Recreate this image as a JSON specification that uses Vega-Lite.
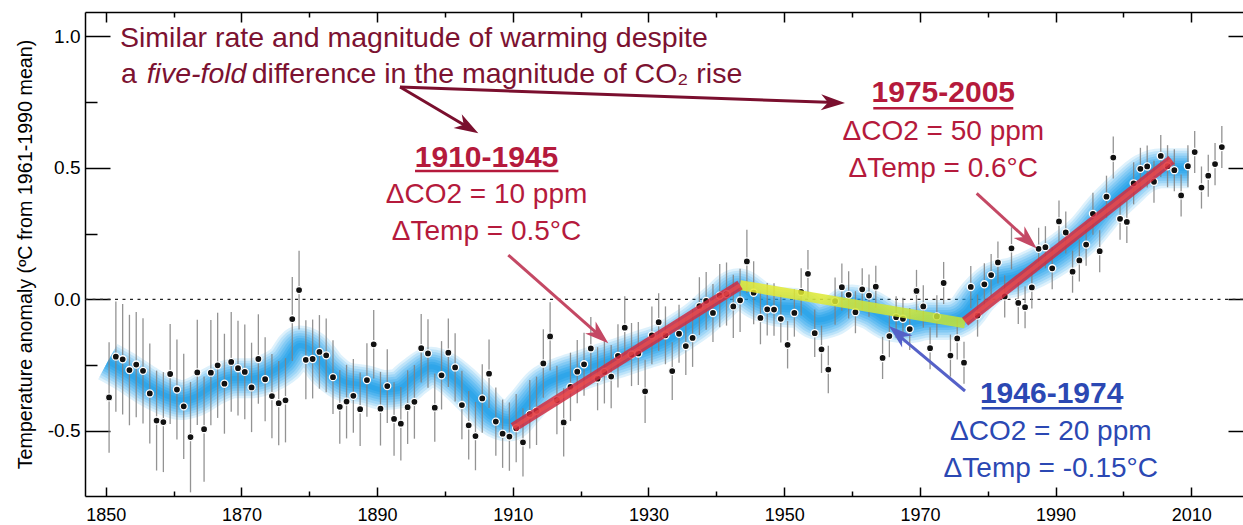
{
"$schema": "https://vega.github.io/schema/vega-lite/v6.json",
"width": 1158, "height": 484,
"autosize": {"type": "none"},
"padding": {"left": 85, "top": 12, "right": 0, "bottom": 29},
"background": "white",
"config": {"view": {"stroke": null}, "font": "Liberation Sans",
 "axis": {"domainColor": "#000", "domainWidth": 1.5, "tickColor": "#000", "tickWidth": 1.5, "labelFont": "Liberation Sans", "labelFontSize": 19, "labelColor": "#000", "titleFont": "Liberation Sans", "titleColor": "#000", "grid": false}},
"datasets": {
"temps": [
{"t":1850.5,"v":-0.373,"e":0.21},{"t":1851.5,"v":-0.218,"e":0.21},{"t":1852.5,"v":-0.228,"e":0.21},{"t":1853.5,"v":-0.269,"e":0.21},{"t":1854.5,"v":-0.248,"e":0.2},{"t":1855.5,"v":-0.272,"e":0.2},{"t":1856.5,"v":-0.358,"e":0.19},{"t":1857.5,"v":-0.461,"e":0.19},{"t":1858.5,"v":-0.467,"e":0.19},{"t":1859.5,"v":-0.284,"e":0.19},
{"t":1860.5,"v":-0.343,"e":0.19},{"t":1861.5,"v":-0.407,"e":0.2},{"t":1862.5,"v":-0.524,"e":0.21},{"t":1863.5,"v":-0.278,"e":0.2},{"t":1864.5,"v":-0.494,"e":0.2},{"t":1865.5,"v":-0.279,"e":0.2},{"t":1866.5,"v":-0.251,"e":0.2},{"t":1867.5,"v":-0.321,"e":0.19},{"t":1868.5,"v":-0.238,"e":0.19},{"t":1869.5,"v":-0.262,"e":0.18},
{"t":1870.5,"v":-0.276,"e":0.18},{"t":1871.5,"v":-0.335,"e":0.17},{"t":1872.5,"v":-0.227,"e":0.17},{"t":1873.5,"v":-0.304,"e":0.16},{"t":1874.5,"v":-0.368,"e":0.16},{"t":1875.5,"v":-0.395,"e":0.16},{"t":1876.5,"v":-0.384,"e":0.16},{"t":1877.5,"v":-0.075,"e":0.16},{"t":1878.5,"v":0.035,"e":0.15},{"t":1879.5,"v":-0.23,"e":0.15},
{"t":1880.5,"v":-0.227,"e":0.15},{"t":1881.5,"v":-0.2,"e":0.14},{"t":1882.5,"v":-0.213,"e":0.14},{"t":1883.5,"v":-0.296,"e":0.14},{"t":1884.5,"v":-0.409,"e":0.14},{"t":1885.5,"v":-0.389,"e":0.14},{"t":1886.5,"v":-0.367,"e":0.14},{"t":1887.5,"v":-0.418,"e":0.14},{"t":1888.5,"v":-0.307,"e":0.14},{"t":1889.5,"v":-0.171,"e":0.13},
{"t":1890.5,"v":-0.416,"e":0.14},{"t":1891.5,"v":-0.33,"e":0.14},{"t":1892.5,"v":-0.455,"e":0.14},{"t":1893.5,"v":-0.473,"e":0.14},{"t":1894.5,"v":-0.41,"e":0.14},{"t":1895.5,"v":-0.39,"e":0.14},{"t":1896.5,"v":-0.186,"e":0.13},{"t":1897.5,"v":-0.206,"e":0.13},{"t":1898.5,"v":-0.412,"e":0.13},{"t":1899.5,"v":-0.289,"e":0.13},
{"t":1900.5,"v":-0.203,"e":0.13},{"t":1901.5,"v":-0.259,"e":0.13},{"t":1902.5,"v":-0.402,"e":0.13},{"t":1903.5,"v":-0.479,"e":0.13},{"t":1904.5,"v":-0.52,"e":0.13},{"t":1905.5,"v":-0.377,"e":0.13},{"t":1906.5,"v":-0.283,"e":0.13},{"t":1907.5,"v":-0.465,"e":0.13},{"t":1908.5,"v":-0.511,"e":0.13},{"t":1909.5,"v":-0.522,"e":0.13},
{"t":1910.5,"v":-0.49,"e":0.13},{"t":1911.5,"v":-0.544,"e":0.13},{"t":1912.5,"v":-0.437,"e":0.13},{"t":1913.5,"v":-0.424,"e":0.13},{"t":1914.5,"v":-0.244,"e":0.13},{"t":1915.5,"v":-0.141,"e":0.13},{"t":1916.5,"v":-0.383,"e":0.13},{"t":1917.5,"v":-0.468,"e":0.13},{"t":1918.5,"v":-0.333,"e":0.13},{"t":1919.5,"v":-0.275,"e":0.12},
{"t":1920.5,"v":-0.247,"e":0.12},{"t":1921.5,"v":-0.187,"e":0.12},{"t":1922.5,"v":-0.302,"e":0.12},{"t":1923.5,"v":-0.276,"e":0.12},{"t":1924.5,"v":-0.294,"e":0.12},{"t":1925.5,"v":-0.215,"e":0.12},{"t":1926.5,"v":-0.108,"e":0.12},{"t":1927.5,"v":-0.21,"e":0.12},{"t":1928.5,"v":-0.206,"e":0.12},{"t":1929.5,"v":-0.35,"e":0.12},
{"t":1930.5,"v":-0.137,"e":0.11},{"t":1931.5,"v":-0.087,"e":0.11},{"t":1932.5,"v":-0.137,"e":0.11},{"t":1933.5,"v":-0.273,"e":0.11},{"t":1934.5,"v":-0.131,"e":0.11},{"t":1935.5,"v":-0.178,"e":0.11},{"t":1936.5,"v":-0.147,"e":0.11},{"t":1937.5,"v":-0.026,"e":0.11},{"t":1938.5,"v":-0.006,"e":0.11},{"t":1939.5,"v":-0.052,"e":0.11},
{"t":1940.5,"v":0.014,"e":0.12},{"t":1941.5,"v":0.02,"e":0.12},{"t":1942.5,"v":-0.027,"e":0.12},{"t":1943.5,"v":-0.004,"e":0.12},{"t":1944.5,"v":0.144,"e":0.12},{"t":1945.5,"v":0.025,"e":0.12},{"t":1946.5,"v":-0.071,"e":0.1},{"t":1947.5,"v":-0.038,"e":0.1},{"t":1948.5,"v":-0.039,"e":0.1},{"t":1949.5,"v":-0.074,"e":0.09},
{"t":1950.5,"v":-0.173,"e":0.09},{"t":1951.5,"v":-0.052,"e":0.09},{"t":1952.5,"v":0.028,"e":0.09},{"t":1953.5,"v":0.097,"e":0.09},{"t":1954.5,"v":-0.129,"e":0.09},{"t":1955.5,"v":-0.19,"e":0.09},{"t":1956.5,"v":-0.267,"e":0.09},{"t":1957.5,"v":-0.007,"e":0.09},{"t":1958.5,"v":0.046,"e":0.09},{"t":1959.5,"v":0.017,"e":0.09},
{"t":1960.5,"v":-0.049,"e":0.08},{"t":1961.5,"v":0.038,"e":0.08},{"t":1962.5,"v":0.014,"e":0.08},{"t":1963.5,"v":0.048,"e":0.08},{"t":1964.5,"v":-0.223,"e":0.08},{"t":1965.5,"v":-0.14,"e":0.08},{"t":1966.5,"v":-0.068,"e":0.08},{"t":1967.5,"v":-0.074,"e":0.08},{"t":1968.5,"v":-0.113,"e":0.08},{"t":1969.5,"v":0.032,"e":0.08},
{"t":1970.5,"v":-0.027,"e":0.08},{"t":1971.5,"v":-0.186,"e":0.08},{"t":1972.5,"v":-0.065,"e":0.08},{"t":1973.5,"v":0.062,"e":0.08},{"t":1974.5,"v":-0.214,"e":0.08},{"t":1975.5,"v":-0.149,"e":0.08},{"t":1976.5,"v":-0.241,"e":0.08},{"t":1977.5,"v":0.047,"e":0.08},{"t":1978.5,"v":-0.062,"e":0.08},{"t":1979.5,"v":0.057,"e":0.08},
{"t":1980.5,"v":0.092,"e":0.08},{"t":1981.5,"v":0.14,"e":0.08},{"t":1982.5,"v":0.011,"e":0.08},{"t":1983.5,"v":0.194,"e":0.08},{"t":1984.5,"v":-0.014,"e":0.08},{"t":1985.5,"v":-0.03,"e":0.08},{"t":1986.5,"v":0.045,"e":0.08},{"t":1987.5,"v":0.192,"e":0.08},{"t":1988.5,"v":0.198,"e":0.08},{"t":1989.5,"v":0.118,"e":0.08},
{"t":1990.5,"v":0.296,"e":0.08},{"t":1991.5,"v":0.254,"e":0.08},{"t":1992.5,"v":0.105,"e":0.08},{"t":1993.5,"v":0.148,"e":0.08},{"t":1994.5,"v":0.208,"e":0.08},{"t":1995.5,"v":0.325,"e":0.08},{"t":1996.5,"v":0.183,"e":0.08},{"t":1997.5,"v":0.39,"e":0.08},{"t":1998.5,"v":0.539,"e":0.08},{"t":1999.5,"v":0.306,"e":0.08},
{"t":2000.5,"v":0.294,"e":0.08},{"t":2001.5,"v":0.441,"e":0.08},{"t":2002.5,"v":0.496,"e":0.08},{"t":2003.5,"v":0.505,"e":0.08},{"t":2004.5,"v":0.447,"e":0.08},{"t":2005.5,"v":0.545,"e":0.08},{"t":2006.5,"v":0.506,"e":0.08},{"t":2007.5,"v":0.491,"e":0.08},{"t":2008.5,"v":0.395,"e":0.08},{"t":2009.5,"v":0.506,"e":0.08},
{"t":2010.5,"v":0.56,"e":0.08},{"t":2011.5,"v":0.425,"e":0.08},{"t":2012.5,"v":0.47,"e":0.08},{"t":2013.5,"v":0.514,"e":0.08},{"t":2014.5,"v":0.579,"e":0.08}
],
"smooth": [
{"t":1850.3,"v":-0.237},{"t":1853.3,"v":-0.281},{"t":1856.3,"v":-0.332},{"t":1859.3,"v":-0.37},{"t":1861.2,"v":-0.383},{"t":1863.2,"v":-0.37},{"t":1866.1,"v":-0.326},{"t":1869.1,"v":-0.3},{"t":1871.5,"v":-0.3},{"t":1874.0,"v":-0.281},{"t":1876.4,"v":-0.243},{"t":1878.6,"v":-0.176},{"t":1880.3,"v":-0.193},{"t":1882.8,"v":-0.269},{"t":1885.2,"v":-0.313},{"t":1888.2,"v":-0.326},{"t":1891.1,"v":-0.345},{"t":1893.1,"v":-0.34},{"t":1895.5,"v":-0.294},{"t":1898.0,"v":-0.256},{"t":1900.0,"v":-0.275},{"t":1902.5,"v":-0.326},{"t":1904.8,"v":-0.385},{"t":1906.9,"v":-0.44},{"t":1909.4,"v":-0.465},{"t":1911.8,"v":-0.408},{"t":1914.3,"v":-0.332},{"t":1917.2,"v":-0.294},{"t":1920.2,"v":-0.269},{"t":1923.1,"v":-0.243},{"t":1926.1,"v":-0.218},{"t":1929.0,"v":-0.193},{"t":1932.2,"v":-0.164},{"t":1935.0,"v":-0.12},{"t":1937.3,"v":-0.079},{"t":1940.2,"v":-0.015},{"t":1943.2,"v":0.042},{"t":1946.2,"v":-0.003},{"t":1949.1,"v":-0.028},{"t":1952.1,"v":-0.034},{"t":1955.0,"v":-0.079},{"t":1957.0,"v":-0.066},{"t":1960.0,"v":-0.02},{"t":1962.8,"v":-0.041},{"t":1965.8,"v":-0.085},{"t":1968.2,"v":-0.091},{"t":1971.2,"v":-0.079},{"t":1974.1,"v":-0.079},{"t":1976.6,"v":-0.053},{"t":1978.5,"v":0.01},{"t":1981.0,"v":0.067},{"t":1983.9,"v":0.086},{"t":1986.9,"v":0.118},{"t":1989.1,"v":0.149},{"t":1991.3,"v":0.187},{"t":1994.3,"v":0.251},{"t":1997.2,"v":0.34},{"t":2000.2,"v":0.416},{"t":2003.1,"v":0.479},{"t":2005.6,"v":0.498},{"t":2008.1,"v":0.498},{"t":2009.6,"v":0.498}
],
"trend": [
{"seg":"r1","t":1910.08,"v":-0.487},{"seg":"r1","t":1943.49,"v":0.054},
{"seg":"y","t":1943.49,"v":0.054},{"seg":"y","t":1976.65,"v":-0.091},
{"seg":"r2","t":1976.65,"v":-0.085},{"seg":"r2","t":2007.1,"v":0.53}
]
},
"resolve": {"axis": {"x": "independent", "y": "independent"}},
"layer": [
{"data": {"values": [{}]}, "mark": {"type": "rule", "strokeDash": [3, 4.5], "stroke": "#222", "strokeWidth": 1.3},
 "encoding": {"y": {"datum": 0, "type": "quantitative", "axis": null}}},
{"data": {"name": "smooth"}, "mark": {"type": "line", "interpolate": "monotone", "stroke": "#2aa6ee", "strokeWidth": 40, "opacity": 0.16, "strokeCap": "butt"},
 "encoding": {
  "x": {"field": "t", "type": "quantitative", "scale": {"domain": [1846.95, 2017.62], "nice": false, "zero": false},
   "axis": {"orient": "top", "values": [1850,1860,1870,1880,1890,1900,1910,1920,1930,1940,1950,1960,1970,1980,1990,2000,2010], "labels": false, "title": null,
    "tickSize": {"condition": {"test": "datum.value % 20 === 10", "value": -10}, "value": -5}}},
  "y": {"field": "v", "type": "quantitative", "scale": {"domain": [-0.7479, 1.0924], "nice": false, "zero": false},
   "axis": {"orient": "right", "values": [-0.5, 0, 0.5, 1], "labels": false, "domain": false, "title": null, "tickSize": -15}}}},
{"data": {"name": "smooth"}, "mark": {"type": "line", "interpolate": "monotone", "stroke": "#2aa6ee", "strokeWidth": 35, "opacity": 0.18, "strokeCap": "butt"},
 "encoding": {"x": {"field": "t", "type": "quantitative", "axis": null}, "y": {"field": "v", "type": "quantitative", "axis": null}}},
{"data": {"name": "smooth"}, "mark": {"type": "line", "interpolate": "monotone", "stroke": "#2aa6ee", "strokeWidth": 30, "opacity": 0.2, "strokeCap": "butt"},
 "encoding": {"x": {"field": "t", "type": "quantitative", "axis": null}, "y": {"field": "v", "type": "quantitative", "axis": null}}},
{"data": {"name": "smooth"}, "mark": {"type": "line", "interpolate": "monotone", "stroke": "#1fa1ec", "strokeWidth": 25, "opacity": 0.22, "strokeCap": "butt"},
 "encoding": {"x": {"field": "t", "type": "quantitative", "axis": null}, "y": {"field": "v", "type": "quantitative", "axis": null}}},
{"data": {"name": "smooth"}, "mark": {"type": "line", "interpolate": "monotone", "stroke": "#1a9eea", "strokeWidth": 20, "opacity": 0.25, "strokeCap": "butt"},
 "encoding": {"x": {"field": "t", "type": "quantitative", "axis": null}, "y": {"field": "v", "type": "quantitative", "axis": null}}},
{"data": {"name": "smooth"}, "mark": {"type": "line", "interpolate": "monotone", "stroke": "#159be8", "strokeWidth": 15, "opacity": 0.28, "strokeCap": "butt"},
 "encoding": {"x": {"field": "t", "type": "quantitative", "axis": null}, "y": {"field": "v", "type": "quantitative", "axis": null}}},
{"data": {"name": "smooth"}, "mark": {"type": "line", "interpolate": "monotone", "stroke": "#1198e6", "strokeWidth": 10, "opacity": 0.3, "strokeCap": "butt"},
 "encoding": {"x": {"field": "t", "type": "quantitative", "axis": null}, "y": {"field": "v", "type": "quantitative", "axis": null}}},
{"data": {"name": "smooth"}, "mark": {"type": "line", "interpolate": "monotone", "stroke": "#1198e6", "strokeWidth": 5, "opacity": 0.3, "strokeCap": "butt"},
 "encoding": {"x": {"field": "t", "type": "quantitative", "axis": null}, "y": {"field": "v", "type": "quantitative", "axis": null}}},
{"data": {"name": "temps"}, "mark": {"type": "errorbar", "ticks": false, "rule": {"color": "#808080", "strokeWidth": 1.3, "opacity": 0.85}},
 "encoding": {"x": {"field": "t", "type": "quantitative", "axis": null}, "y": {"field": "v", "type": "quantitative", "axis": null}, "yError": {"field": "e"}}},
{"data": {"name": "temps"}, "mark": {"type": "point", "filled": true, "fill": "#111", "stroke": "#fff", "strokeWidth": 1.3, "size": 50, "opacity": 1},
 "encoding": {
  "x": {"field": "t", "type": "quantitative", "scale": {"domain": [1846.95, 2017.62], "nice": false, "zero": false},
   "axis": {"orient": "bottom", "values": [1850,1860,1870,1880,1890,1900,1910,1920,1930,1940,1950,1960,1970,1980,1990,2000,2010], "format": "d", "title": null,
    "labelExpr": "datum.value % 20 === 10 ? datum.label : ''", "labelPadding": 19, "labelFontSize": 18,
    "tickSize": {"condition": {"test": "datum.value % 20 === 10", "value": -9}, "value": -5}}},
  "y": {"field": "v", "type": "quantitative", "scale": {"domain": [-0.7479, 1.0924], "nice": false, "zero": false},
   "axis": {"orient": "left", "values": [-0.5, -0.25, 0, 0.25, 0.5, 0.75, 1],
    "labelExpr": "datum.value % 0.5 === 0 ? replace(format(datum.value, '.1f'), '\u2212', '-') : ''", "labelPadding": 30,
    "tickSize": {"condition": {"test": "datum.value % 0.5 === 0", "value": -25}, "value": -12},
    "title": "Temperature anomaly (ºC from 1961-1990 mean)", "titleFontSize": 19.7, "titleFontWeight": "normal", "titlePadding": 12}}}},
{"data": {"name": "trend"}, "transform": [{"filter": "datum.seg === 'y'"}],
 "mark": {"type": "line", "strokeWidth": 10, "opacity": 0.85, "strokeCap": "butt", "stroke": {"gradient": "linear", "x1": 0, "x2": 1, "y1": 0, "y2": 0, "stops": [{"offset": 0, "color": "#ecec30"}, {"offset": 1, "color": "#c0e238"}]}},
 "encoding": {"x": {"field": "t", "type": "quantitative", "axis": null}, "y": {"field": "v", "type": "quantitative", "axis": null}}},
{"data": {"name": "trend"}, "transform": [{"filter": "datum.seg !== 'y'"}],
 "mark": {"type": "line", "strokeWidth": 10, "opacity": 0.85, "strokeCap": "butt", "stroke": "#d02c40"},
 "encoding": {"x": {"field": "t", "type": "quantitative", "axis": null}, "y": {"field": "v", "type": "quantitative", "axis": null}, "detail": {"field": "seg"}}},
{"data": {"name": "trend"}, "transform": [{"filter": "datum.seg !== 'y'"}],
 "mark": {"type": "line", "strokeWidth": 4, "opacity": 0.55, "strokeCap": "butt", "stroke": "#f5524a"},
 "encoding": {"x": {"field": "t", "type": "quantitative", "axis": null}, "y": {"field": "v", "type": "quantitative", "axis": null}, "detail": {"field": "seg"}}},

{"data": {"values": [{}]}, "mark": {"type": "rule", "stroke": "#7a0f2e", "strokeWidth": 3},
 "encoding": {"x": {"datum": 1893.38, "type": "quantitative", "axis": null}, "y": {"datum": 0.807, "type": "quantitative", "axis": null}, "x2": {"datum": 1903.65}, "y2": {"datum": 0.6506}}},
{"data": {"values": [{}]}, "mark": {"type": "point", "shape": "M0,0L0.8,2.4L0,1.7L-0.8,2.4Z", "size": 400, "filled": true, "fill": "#7a0f2e", "strokeWidth": 0, "opacity": 1, "angle": 120.6},
 "encoding": {"x": {"datum": 1904.92, "type": "quantitative", "axis": null}, "y": {"datum": 0.631, "type": "quantitative", "axis": null}}},
{"data": {"values": [{}]}, "mark": {"type": "rule", "stroke": "#7a0f2e", "strokeWidth": 3},
 "encoding": {"x": {"datum": 1893.38, "type": "quantitative", "axis": null}, "y": {"datum": 0.807, "type": "quantitative", "axis": null}, "x2": {"datum": 1957.49}, "y2": {"datum": 0.748}}},
{"data": {"values": [{}]}, "mark": {"type": "point", "shape": "M0,0L0.8,2.4L0,1.7L-0.8,2.4Z", "size": 400, "filled": true, "fill": "#7a0f2e", "strokeWidth": 0, "opacity": 1, "angle": 92.0},
 "encoding": {"x": {"datum": 1958.96, "type": "quantitative", "axis": null}, "y": {"datum": 0.746, "type": "quantitative", "axis": null}}},
{"data": {"values": [{}]}, "mark": {"type": "rule", "stroke": "#c44864", "strokeWidth": 3},
 "encoding": {"x": {"datum": 1909.34, "type": "quantitative", "axis": null}, "y": {"datum": 0.1684, "type": "quantitative", "axis": null}, "x2": {"datum": 1922.97}, "y2": {"datum": -0.1422}}},
{"data": {"values": [{}]}, "mark": {"type": "point", "shape": "M0,0L0.8,2.4L0,1.7L-0.8,2.4Z", "size": 400, "filled": true, "fill": "#c44864", "strokeWidth": 0, "opacity": 1, "angle": 131.4},
 "encoding": {"x": {"datum": 1924.08, "type": "quantitative", "axis": null}, "y": {"datum": -0.1673, "type": "quantitative", "axis": null}}},
{"data": {"values": [{}]}, "mark": {"type": "rule", "stroke": "#c44864", "strokeWidth": 3},
 "encoding": {"x": {"datum": 1978.37, "type": "quantitative", "axis": null}, "y": {"datum": 0.403, "type": "quantitative", "axis": null}, "x2": {"datum": 1986.12}, "y2": {"datum": 0.2198}}},
{"data": {"values": [{}]}, "mark": {"type": "point", "shape": "M0,0L0.8,2.4L0,1.7L-0.8,2.4Z", "size": 400, "filled": true, "fill": "#c44864", "strokeWidth": 0, "opacity": 1, "angle": 132.5},
 "encoding": {"x": {"datum": 1987.22, "type": "quantitative", "axis": null}, "y": {"datum": 0.1935, "type": "quantitative", "axis": null}}},
{"data": {"values": [{}]}, "mark": {"type": "rule", "stroke": "#5561c8", "strokeWidth": 3},
 "encoding": {"x": {"datum": 1976.65, "type": "quantitative", "axis": null}, "y": {"datum": -0.3487, "type": "quantitative", "axis": null}, "x2": {"datum": 1966.46}, "y2": {"datum": -0.1289}}},
{"data": {"values": [{}]}, "mark": {"type": "point", "shape": "M0,0L0.8,2.4L0,1.7L-0.8,2.4Z", "size": 400, "filled": true, "fill": "#5561c8", "strokeWidth": 0, "opacity": 1, "angle": -49.7},
 "encoding": {"x": {"datum": 1965.45, "type": "quantitative", "axis": null}, "y": {"datum": -0.1015, "type": "quantitative", "axis": null}}},

{"data": {"values": [{"label": "Similar rate and magnitude of warming despite"}]}, "mark": {"type": "text", "align": "left", "baseline": "alphabetic", "fontSize": 28.5, "fill": "#7c1231", "font": "Liberation Sans"},
 "encoding": {"x": {"datum": 1852.11, "type": "quantitative", "axis": null}, "y": {"datum": 0.9608, "type": "quantitative", "axis": null}, "text": {"field": "label"}}},
{"data": {"values": [{"label": "a"}]}, "mark": {"type": "text", "align": "left", "baseline": "alphabetic", "fontSize": 28.5, "fill": "#7c1231", "font": "Liberation Sans"},
 "encoding": {"x": {"datum": 1852.26, "type": "quantitative", "axis": null}, "y": {"datum": 0.8236, "type": "quantitative", "axis": null}, "text": {"field": "label"}}},
{"data": {"values": [{"label": "five-fold"}]}, "mark": {"type": "text", "align": "left", "baseline": "alphabetic", "fontSize": 28.5, "fontStyle": "italic", "fill": "#7c1231", "font": "Liberation Sans"},
 "encoding": {"x": {"datum": 1856.04, "type": "quantitative", "axis": null}, "y": {"datum": 0.8236, "type": "quantitative", "axis": null}, "text": {"field": "label"}}},
{"data": {"values": [{"label": "difference in the magnitude of CO₂ rise"}]}, "mark": {"type": "text", "align": "left", "baseline": "alphabetic", "fontSize": 28.5, "fill": "#7c1231", "font": "Liberation Sans"},
 "encoding": {"x": {"datum": 1871.52, "type": "quantitative", "axis": null}, "y": {"datum": 0.8236, "type": "quantitative", "axis": null}, "text": {"field": "label"}}},

{"data": {"values": [{"label": "1910-1945"}]}, "mark": {"type": "text", "align": "center", "baseline": "alphabetic", "fontSize": 30, "fontWeight": "bold", "fill": "#b51a3c", "font": "Liberation Sans"},
 "encoding": {"x": {"datum": 1906.13, "type": "quantitative", "axis": null}, "y": {"datum": 0.504, "type": "quantitative", "axis": null}, "text": {"field": "label"}}},
{"data": {"values": [{}]}, "mark": {"type": "rule", "stroke": "#b51a3c", "strokeWidth": 2.5},
 "encoding": {"x": {"datum": 1895.59, "type": "quantitative", "axis": null}, "x2": {"datum": 1916.72}, "y": {"datum": 0.4878, "type": "quantitative", "axis": null}}},
{"data": {"values": [{"label": ["ΔCO2 = 10 ppm", "ΔTemp = 0.5°C"]}]}, "mark": {"type": "text", "align": "center", "baseline": "alphabetic", "fontSize": 28, "lineHeight": 36.7, "fill": "#b51a3c", "font": "Liberation Sans"},
 "encoding": {"x": {"datum": 1906.13, "type": "quantitative", "axis": null}, "y": {"datum": 0.365, "type": "quantitative", "axis": null}, "text": {"field": "label"}}},

{"data": {"values": [{"label": "1975-2005"}]}, "mark": {"type": "text", "align": "center", "baseline": "alphabetic", "fontSize": 30, "fontWeight": "bold", "fill": "#b51a3c", "font": "Liberation Sans"},
 "encoding": {"x": {"datum": 1973.45, "type": "quantitative", "axis": null}, "y": {"datum": 0.7513, "type": "quantitative", "axis": null}, "text": {"field": "label"}}},
{"data": {"values": [{}]}, "mark": {"type": "rule", "stroke": "#b51a3c", "strokeWidth": 2.5},
 "encoding": {"x": {"datum": 1963.13, "type": "quantitative", "axis": null}, "x2": {"datum": 1983.76}, "y": {"datum": 0.726, "type": "quantitative", "axis": null}}},
{"data": {"values": [{"label": ["ΔCO2 = 50 ppm", "ΔTemp = 0.6°C"]}]}, "mark": {"type": "text", "align": "center", "baseline": "alphabetic", "fontSize": 28, "lineHeight": 36.7, "fill": "#b51a3c", "font": "Liberation Sans"},
 "encoding": {"x": {"datum": 1973.45, "type": "quantitative", "axis": null}, "y": {"datum": 0.6057, "type": "quantitative", "axis": null}, "text": {"field": "label"}}},

{"data": {"values": [{"label": "1946-1974"}]}, "mark": {"type": "text", "align": "center", "baseline": "alphabetic", "fontSize": 30, "fontWeight": "bold", "fill": "#2b48b3", "font": "Liberation Sans"},
 "encoding": {"x": {"datum": 1989.42, "type": "quantitative", "axis": null}, "y": {"datum": -0.3954, "type": "quantitative", "axis": null}, "text": {"field": "label"}}},
{"data": {"values": [{}]}, "mark": {"type": "rule", "stroke": "#2b48b3", "strokeWidth": 2.5},
 "encoding": {"x": {"datum": 1979.11, "type": "quantitative", "axis": null}, "x2": {"datum": 1999.74}, "y": {"datum": -0.4144, "type": "quantitative", "axis": null}}},
{"data": {"values": [{"label": ["ΔCO2 = 20 ppm", "ΔTemp = -0.15°C"]}]}, "mark": {"type": "text", "align": "center", "baseline": "alphabetic", "fontSize": 28, "lineHeight": 36.7, "fill": "#2b48b3", "font": "Liberation Sans"},
 "encoding": {"x": {"datum": 1989.29, "type": "quantitative", "axis": null}, "y": {"datum": -0.535, "type": "quantitative", "axis": null}, "text": {"field": "label"}}}
]
}
